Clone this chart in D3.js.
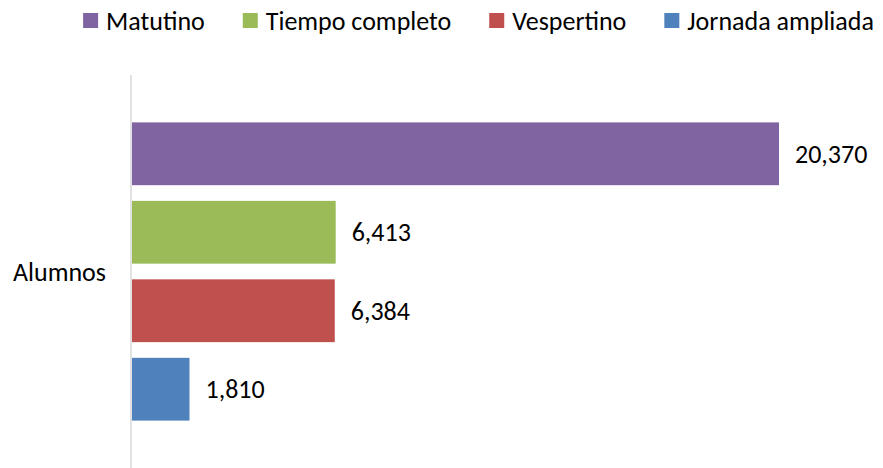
<!DOCTYPE html>
<html>
<head>
<meta charset="utf-8">
<script src="https://cdn.jsdelivr.net/npm/d3@7"></script>
<style>
  html, body { margin: 0; padding: 0; background: #fff; }
  svg text { font-family: Carlito, Calibri, Lato, "Open Sans", sans-serif; fill: #000; }
</style>
</head>
<body>
<svg id="chart" width="883" height="468"></svg>
<script>
// Alumnos por turno
const categories = ["Alumnos"];
const seriesNames = ["Matutino", "Tiempo completo", "Vespertino", "Jornada ampliada"];
const seriesValues = [20370, 6413, 6384, 1810];
const seriesColors = ["#8064A2", "#9BBB59", "#C0504D", "#4F81BD"];

const svg = d3.select("#chart");
const W = 883, H = 468;
const fontSize = 26;
const fmt = d3.format(",");

const plot = { left: 131, top: 75, bottom: 468, right: 778 };

const x = d3.scaleLinear()
  .domain([0, d3.max(seriesValues)])
  .range([plot.left, plot.right]);

const yCat = d3.scaleBand()
  .domain(categories)
  .range([plot.top, plot.bottom])
  .paddingOuter(0.126)
  .paddingInner(0);

const ySeries = d3.scaleBand()
  .domain(seriesNames)
  .range([0, yCat.bandwidth()])
  .paddingInner(0.2)
  .paddingOuter(0.1);

const rows = seriesNames.map((name, i) => ({ name, value: seriesValues[i], color: seriesColors[i] }));

// Category axis line
svg.append("line")
  .attr("x1", plot.left).attr("x2", plot.left)
  .attr("y1", plot.top).attr("y2", plot.bottom)
  .attr("stroke", "#D9D9D9").attr("stroke-width", 1.5);

categories.forEach(cat => {
  const g = svg.append("g").attr("transform", `translate(0,${yCat(cat)})`);

  g.selectAll("rect")
    .data(rows)
    .join("rect")
    .attr("x", x(0) + 1)
    .attr("y", d => ySeries(d.name))
    .attr("width", d => x(d.value) - x(0))
    .attr("height", ySeries.bandwidth())
    .attr("fill", d => d.color);

  g.selectAll("text.val")
    .data(rows)
    .join("text")
    .attr("class", "val")
    .attr("x", d => x(d.value) + 17)
    .attr("y", d => ySeries(d.name) + ySeries.bandwidth() / 2)
    .attr("dy", "0.35em")
    .attr("font-size", fontSize)
    .text(d => fmt(d.value));

  svg.append("text")
    .attr("x", plot.left - 25)
    .attr("y", yCat(cat) + yCat.bandwidth() / 2)
    .attr("dy", "0.35em")
    .attr("text-anchor", "end")
    .attr("font-size", fontSize)
    .text(cat);
});

// Legend
const legend = svg.append("g");
const sq = 15, gap = 8, spacing = 38;
let cx = 0;
rows.forEach(d => {
  const item = legend.append("g").attr("transform", `translate(${cx},0)`);
  item.append("rect").attr("x", 0).attr("y", 13).attr("width", sq).attr("height", sq).attr("fill", d.color);
  const t = item.append("text")
    .attr("x", sq + gap).attr("y", 20.5).attr("dy", "0.35em")
    .attr("font-size", fontSize)
    .text(d.name);
  cx += sq + gap + t.node().getComputedTextLength() + spacing;
});
const legendWidth = cx - spacing;
legend.attr("transform", `translate(${478.5 - legendWidth / 2},0)`);
</script>
</body>
</html>
